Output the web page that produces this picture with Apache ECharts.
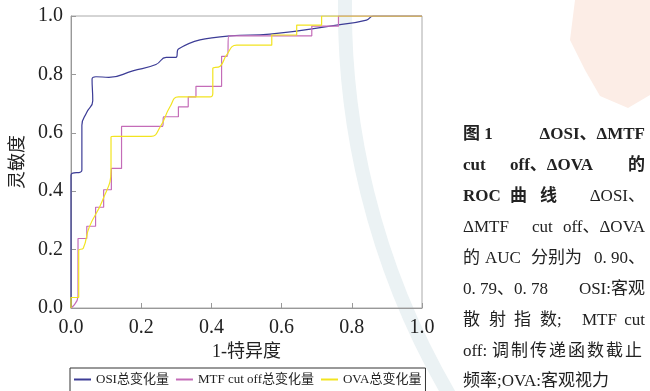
<!DOCTYPE html>
<html>
<head>
<meta charset="utf-8">
<script src="https://cdn.jsdelivr.net/npm/echarts@6/dist/echarts.min.js"></script>
<style>
  html, body { margin: 0; padding: 0; background: #fff; }
  #chart { width: 650px; height: 391px; }
</style>
</head>
<body>
<div id="chart"></div>
<script>
// ROC 曲线数据 [1-特异度, 灵敏度]
var seriesNames = ['OSI总变化量', 'MTF cut off总变化量', 'OVA总变化量'];
var osiPoints = [[0,0],[0,0.455],[0.031,0.472],[0.031,0.626],[0.045,0.67],[0.062,0.71],[0.06,0.784],
  [0.071,0.792],[0.108,0.79],[0.176,0.812],[0.242,0.834],[0.271,0.858],[0.299,0.858],[0.306,0.887],
  [0.453,0.932],[0.567,0.938],[0.757,0.969],[0.842,0.986],[0.861,1],[1,1]];
var mtfPoints = [[0,0],[0.02,0.04],[0.02,0.238],[0.045,0.238],[0.045,0.28],[0.07,0.28],[0.07,0.345],
  [0.093,0.345],[0.093,0.405],[0.115,0.405],[0.115,0.478],[0.144,0.478],[0.144,0.622],[0.261,0.622],
  [0.264,0.655],[0.306,0.655],[0.306,0.689],[0.334,0.689],[0.334,0.723],[0.356,0.723],[0.356,0.759],
  [0.429,0.759],[0.429,0.862],[0.445,0.862],[0.45,0.932],[0.686,0.932],[0.686,0.965],[0.762,0.965],
  [0.762,1],[1,1]];
var ovaPoints = [[0,0],[0,0.036],[0.022,0.036],[0.022,0.197],[0.035,0.205],[0.052,0.277],[0.09,0.369],
  [0.114,0.472],[0.114,0.586],[0.123,0.588],[0.228,0.588],[0.254,0.62],[0.282,0.689],[0.306,0.723],
  [0.396,0.723],[0.404,0.735],[0.404,0.82],[0.425,0.828],[0.443,0.866],[0.472,0.9],[0.572,0.9],
  [0.572,0.935],[0.643,0.935],[0.643,0.969],[0.714,0.969],[0.714,1],[1,1]];
var tickLabels = ['0.0', '0.2', '0.4', '0.6', '0.8', '1.0'];
var lineColors = ['#3c3c96', '#c46cb8', '#f2e420'];

var serif = '"Liberation Serif", "Noto Sans CJK SC", serif';
var chart = echarts.init(document.getElementById('chart'));

function axisCommon() {
  return {
    type: 'value', min: 0, max: 1, interval: 0.2,
    axisLine: { show: true, lineStyle: { color: '#999', width: 1 } },
    axisTick: { show: true, inside: true, length: 5, lineStyle: { color: '#999' } },
    splitLine: { show: false },
    axisLabel: {
      color: '#222', fontFamily: serif, fontSize: 20, margin: 8,
      formatter: function (v) { return tickLabels[Math.round(v / 0.2)]; }
    },
    nameLocation: 'middle',
    nameTextStyle: { color: '#222', fontFamily: serif, fontSize: 18 }
  };
}

var xAxis = axisCommon();
xAxis.name = '1-特异度';
xAxis.nameGap = 35;
xAxis.axisLabel.margin = 10;
var yAxis = axisCommon();
yAxis.name = '灵敏度';
yAxis.nameGap = 39;

function makeSeries(i, pts) {
  return {
    name: seriesNames[i], type: 'line', data: pts,
    smooth: true, symbol: 'none', showSymbol: false, z: 3 + i,
    lineStyle: { color: lineColors[i], width: 1.2 },
    itemStyle: { color: lineColors[i] }
  };
}

// 右侧图注
var caption = [
  // [文字, x, y, 对齐, 粗体]
  ['图 1', 463, 136, 'left', true], ['ΔOSI、ΔMTF', 645, 136, 'right', true],
  ['cut', 463, 167, 'left', true], ['off、ΔOVA', 510, 167, 'left', true], ['的', 645, 167, 'right', true],
  ['ROC', 463, 198, 'left', true], ['曲', 510, 198, 'left', true], ['线', 540, 198, 'left', true],
  ['ΔOSI、', 645, 198, 'right', false],
  ['ΔMTF', 463, 229, 'left', false], ['cut', 532, 229, 'left', false], ['off、ΔOVA', 645, 229, 'right', false],
  ['的', 463, 260, 'left', false], ['AUC', 485, 260, 'left', false], ['分别为', 531, 260, 'left', false],
  ['0. 90、', 645, 260, 'right', false],
  ['0. 79、0. 78', 463, 291, 'left', false], ['OSI:客观', 645, 291, 'right', false],
  ['散', 463, 322, 'left', false], ['射', 489, 322, 'left', false], ['指', 514, 322, 'left', false],
  ['数;', 540, 322, 'left', false], ['MTF', 582, 322, 'left', false], ['cut', 645, 322, 'right', false],
  ['off:', 463, 353, 'left', false]
];
var line8 = '调制传递函数截止';
for (var k = 0; k < line8.length; k++) {
  caption.push([line8.charAt(k), 492 + k * 19, 353, 'left', false]);
}
caption.push(['频率;OVA:客观视力', 463, 383, 'left', false]);

var graphic = [
  // 背景水印（淡色）
  { type: 'arc', z: -1, silent: true, shape: { cx: 1111, cy: 9, r: 766, startAngle: 2.55, endAngle: 3.25 },
    style: { stroke: '#ebf2f4', lineWidth: 14, fill: null } },
  { type: 'polygon', z: -1, silent: true,
    shape: { points: [[575, 0], [650, 0], [650, 95], [628, 108], [600, 96], [585, 70], [570, 40]] },
    style: { fill: '#fcede6' } }
].concat(caption.map(function (c) {
  return {
    type: 'text', left: c[3] === 'left' ? c[1] : null, right: c[3] === 'right' ? 650 - c[1] : null,
    top: c[2] - 10,
    style: { text: c[0], fill: '#222', font: (c[4] ? 'bold ' : '') + '17px ' + serif }
  };
}));

chart.setOption({
  backgroundColor: '#fff',
  animation: false,
  grid: { left: 71, right: 228, top: 16, bottom: 83, show: true, borderColor: '#aaa', borderWidth: 1 },
  xAxis: xAxis,
  yAxis: yAxis,
  legend: {
    data: seriesNames, left: 70, top: 368, icon: 'rect', itemWidth: 17, itemHeight: 2, itemGap: 7,
    padding: [5, 4, 10, 4], borderColor: '#333', borderWidth: 1,
    textStyle: { color: '#222', fontFamily: serif, fontSize: 13 }
  },
  series: [makeSeries(0, osiPoints), makeSeries(1, mtfPoints), makeSeries(2, ovaPoints)],
  graphic: graphic
});
</script>
</body>
</html>
